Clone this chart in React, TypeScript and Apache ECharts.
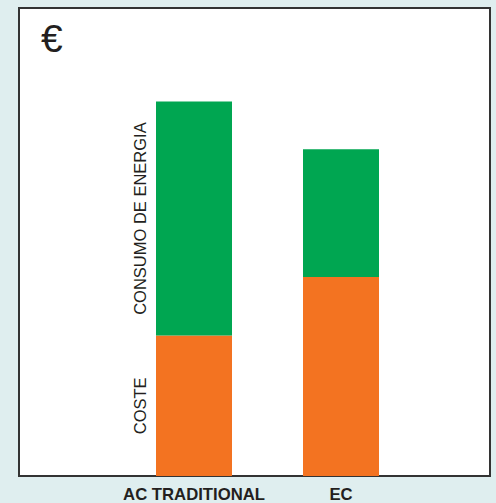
import React, { useEffect, useRef } from "react";
import * as echarts from "echarts";

const categories = ["AC TRADITIONAL", "EC"];
const costeValues = [30, 42.5];
const energiaValues = [50, 27.3];
const seriesNames = ["COSTE", "CONSUMO DE ENERGIA"];
const yMax = 100;

const FONT = "'Liberation Sans', Arial, Helvetica, sans-serif";

export default function App() {
  const ref = useRef<HTMLDivElement>(null);
  useEffect(() => {
    if (!ref.current) return;
    const chart = echarts.init(ref.current, null, { renderer: "svg" });
    const sideLabel = (text: string) => ({
      show: true,
      formatter: text,
      position: [-16, "50%"],
      rotate: 90,
      align: "center",
      verticalAlign: "middle",
      fontSize: 16.5,
      fontFamily: FONT,
      color: "#231f20",
    });
    chart.setOption({
      animation: false,
      backgroundColor: "#dfeeef",
      grid: [
        {
          left: 19,
          right: 6,
          top: 8,
          bottom: 27,
          show: true,
          backgroundColor: "#ffffff",
          borderColor: "#333333",
          borderWidth: 2,
        },
        { left: 120.5, right: 81.5, top: 8, bottom: 27 },
      ],
      xAxis: [
        { type: "value", gridIndex: 0, show: false },
        {
          type: "category",
          gridIndex: 1,
          data: categories,
          axisLine: { show: false },
          axisTick: { show: false },
          axisLabel: {
            interval: 0,
            margin: 10,
            fontSize: 16.7,
            fontWeight: "bold",
            fontFamily: FONT,
            color: "#231f20",
          },
        },
      ],
      yAxis: [
        { type: "value", gridIndex: 0, show: false },
        { type: "value", gridIndex: 1, min: 0, max: yMax, show: false },
      ],
      series: [
        {
          name: seriesNames[0],
          type: "bar",
          stack: "total",
          xAxisIndex: 1,
          yAxisIndex: 1,
          barWidth: 76,
          itemStyle: { color: "#f37321" },
          data: costeValues.map((v, i) =>
            i === 0 ? { value: v, label: sideLabel(seriesNames[0]) } : v
          ),
        },
        {
          name: seriesNames[1],
          type: "bar",
          stack: "total",
          xAxisIndex: 1,
          yAxisIndex: 1,
          barWidth: 76,
          itemStyle: { color: "#00a651" },
          data: energiaValues.map((v, i) =>
            i === 0 ? { value: v, label: sideLabel(seriesNames[1]) } : v
          ),
        },
      ],
      graphic: [
        {
          type: "text",
          left: 41,
          top: 19,
          style: {
            text: "€",
            fontSize: 39,
            fontFamily: FONT,
            fill: "#231f20",
          },
        },
      ],
    });
    return () => chart.dispose();
  }, []);
  return (
    <div
      ref={ref}
      style={{ position: "absolute", left: 0, top: 0, width: 496, height: 503 }}
    />
  );
}
